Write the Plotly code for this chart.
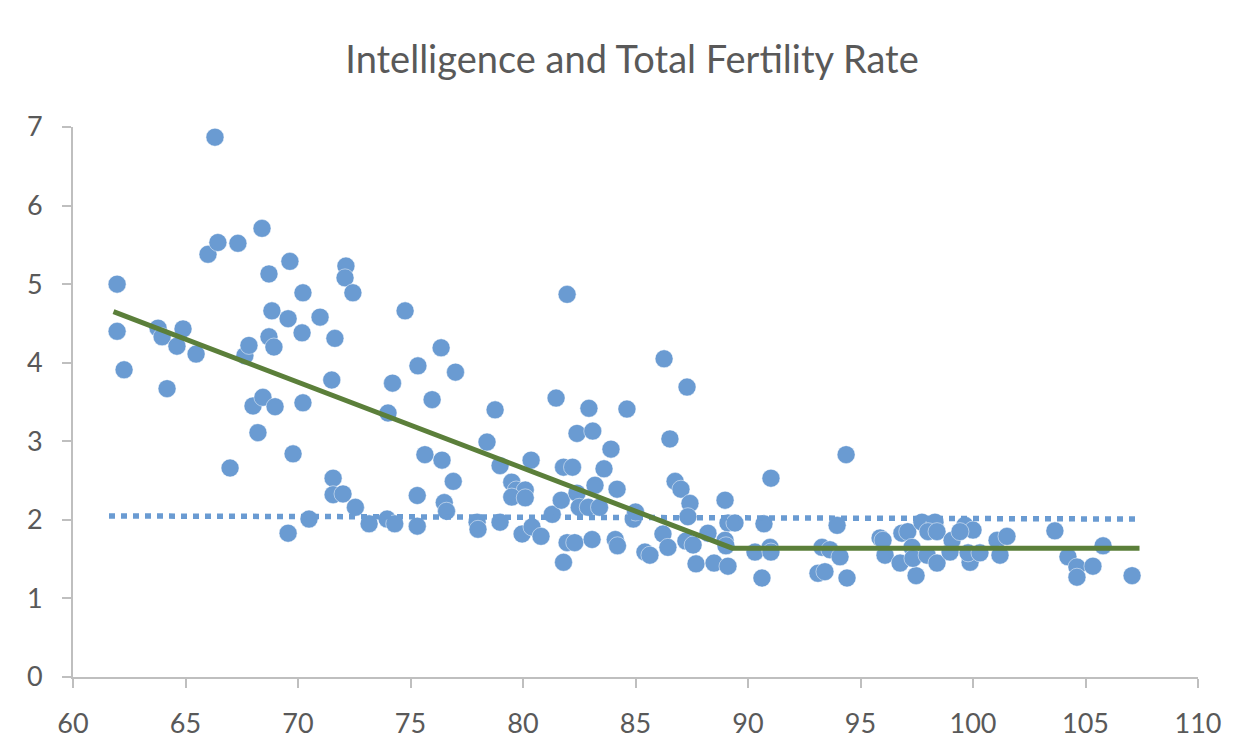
import plotly.graph_objects as go

# IQ (x) and total fertility rate (y)
iq = [
    61.96, 61.96, 62.27, 63.78, 63.96, 64.18, 64.62, 64.89, 65.47, 66.0,
    66.31, 66.44, 66.98, 67.33, 67.64, 67.82, 68.0, 68.22, 68.4, 68.44,
    68.71, 68.71, 68.84, 68.93, 68.98, 69.56, 69.64, 69.56, 69.78, 70.22,
    70.18, 70.22, 70.49, 70.98, 71.5, 71.64, 71.56, 71.56, 72.0, 72.13,
    72.09, 72.44, 72.55, 73.16, 73.96, 74.0, 74.2, 74.3, 74.76, 75.33,
    75.3, 75.3, 75.64, 75.96, 76.36, 76.4, 76.5, 76.6, 76.9, 77.0,
    77.96, 78.0, 78.4, 78.76, 78.98, 78.98, 79.5, 79.7, 80.1, 79.5,
    80.1, 79.96, 80.36, 80.4, 80.8, 81.3, 81.47, 81.7, 81.8, 81.96,
    81.96, 82.2, 82.3, 82.4, 82.4, 82.5, 82.9, 82.93, 83.07, 83.1,
    83.2, 83.4, 83.6, 83.91, 84.1, 84.18, 84.2, 84.62, 84.9, 85.0,
    85.42, 85.64, 81.8, 86.27, 87.29, 86.53, 86.76, 87.02, 87.42, 88.98,
    91.02, 94.36, 87.33, 89.11, 89.42, 90.71, 93.96, 86.22, 86.44, 87.24,
    87.56, 88.22, 88.98, 89.02, 87.69, 88.49, 89.11, 90.31, 90.98, 91.02,
    90.62, 93.29, 93.64, 94.09, 93.11, 93.42, 94.4, 95.87, 96.09, 96.0,
    96.84, 97.1, 96.76, 97.47, 97.73, 98.31, 98.0, 98.4, 97.29, 97.33,
    97.96, 98.4, 98.98, 99.07, 99.64, 100.0, 99.42, 99.87, 99.78, 100.31,
    101.07, 101.51, 101.2, 103.64, 104.22, 104.62, 104.62, 105.33, 105.78, 107.07,
]
tfr = [
    5.00, 4.40, 3.91, 4.44, 4.33, 3.67, 4.21, 4.43, 4.11, 5.38,
    6.87, 5.53, 2.66, 5.52, 4.09, 4.22, 3.45, 3.11, 5.71, 3.56,
    5.13, 4.33, 4.66, 4.20, 3.44, 4.56, 5.29, 1.83, 2.84, 4.89,
    4.38, 3.49, 2.01, 4.58, 3.78, 4.31, 2.53, 2.32, 2.33, 5.23,
    5.08, 4.89, 2.16, 1.95, 2.01, 3.36, 3.74, 1.95, 4.66, 3.96,
    2.31, 1.92, 2.83, 3.53, 4.19, 2.76, 2.22, 2.11, 2.49, 3.88,
    1.97, 1.88, 2.99, 3.40, 2.69, 1.97, 2.48, 2.38, 2.38, 2.29,
    2.28, 1.82, 2.76, 1.91, 1.79, 2.07, 3.55, 2.25, 2.67, 4.87,
    1.71, 2.67, 1.71, 3.10, 2.34, 2.16, 2.16, 3.42, 1.75, 3.13,
    2.44, 2.16, 2.65, 2.90, 1.75, 2.39, 1.67, 3.41, 2.01, 2.10,
    1.59, 1.55, 1.46, 4.05, 3.69, 3.03, 2.49, 2.39, 2.21, 2.25,
    2.53, 2.83, 2.04, 1.96, 1.96, 1.95, 1.93, 1.82, 1.65, 1.73,
    1.68, 1.83, 1.74, 1.67, 1.44, 1.45, 1.41, 1.59, 1.65, 1.59,
    1.26, 1.65, 1.62, 1.53, 1.32, 1.34, 1.26, 1.77, 1.55, 1.74,
    1.83, 1.85, 1.45, 1.29, 1.97, 1.97, 1.85, 1.85, 1.65, 1.51,
    1.55, 1.45, 1.59, 1.74, 1.93, 1.87, 1.85, 1.46, 1.58, 1.58,
    1.74, 1.79, 1.55, 1.86, 1.53, 1.40, 1.27, 1.41, 1.67, 1.29,
]

# trend lines
linear_x = [61.6, 107.4]
linear_y = [2.05, 2.01]
piecewise_x = [61.8, 89.3, 107.4]
piecewise_y = [4.65, 1.64, 1.64]

BLUE = '#6A9BD2'
GREEN = '#5B7F3A'
GREY_TEXT = '#595959'
AXIS = '#BFBFBF'

# the page body adds an 8px margin, so the figure is 8px smaller
W, H = 1250, 745

fig = go.Figure()

fig.add_trace(go.Scatter(
    x=iq, y=tfr, mode='markers',
    marker=dict(size=18, color=BLUE, line=dict(color='rgba(255,255,255,0.6)', width=0.8)),
))
fig.add_trace(go.Scatter(
    x=linear_x, y=linear_y, mode='lines',
    line=dict(color=BLUE, width=5.5, dash='6px,6px'),
))
fig.add_trace(go.Scatter(
    x=piecewise_x, y=piecewise_y, mode='lines',
    line=dict(color=GREEN, width=5),
))

fig.update_layout(
    width=W, height=H,
    margin=dict(l=65, r=60, t=119, b=76),
    paper_bgcolor='white', plot_bgcolor='white',
    showlegend=False,
    font=dict(family='Lato, sans-serif', color=GREY_TEXT),
    title=dict(
        text='Intelligence and Total Fertility Rate',
        x=(632 - 8) / W, xanchor='center', y=1 - 52 / H, yanchor='middle',
        font=dict(size=38, color=GREY_TEXT, family='Lato, sans-serif'),
    ),
    xaxis=dict(
        range=[60, 110], tickmode='array', tickvals=list(range(60, 111, 5)),
        showgrid=False, zeroline=False,
        showline=True, linecolor=AXIS, linewidth=2,
        ticks='outside', ticklen=9, tickwidth=2, tickcolor=AXIS,
        tickfont=dict(size=27, color=GREY_TEXT), ticklabelstandoff=13,
    ),
    yaxis=dict(
        range=[0, 7], tickmode='array', tickvals=list(range(0, 8)),
        showgrid=False, zeroline=False,
        showline=True, linecolor=AXIS, linewidth=2,
        ticks='outside', ticklen=9, tickwidth=2, tickcolor=AXIS,
        tickfont=dict(size=27, color=GREY_TEXT), ticklabelstandoff=14,
    ),
    shapes=[dict(
        type='rect', xref='paper', yref='paper',
        x0=(6 - 73) / 1125, x1=1.1, y0=-0.3, y1=1 + (127 - 6) / 550,
        line=dict(color='#D9D9D9', width=1.5), layer='below',
    )],
)

fig.write_html('out.html')
